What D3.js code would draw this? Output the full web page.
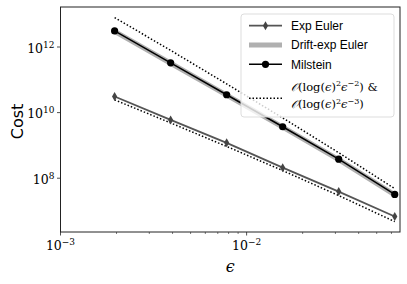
<!DOCTYPE html>
<html>
<head>
<meta charset="utf-8">
<script src="https://cdn.jsdelivr.net/npm/d3@7"></script>
<style>
  body { margin: 0; background: #fff; }
  text { fill: #000; }
</style>
</head>
<body>
<div class="chart"></div>
<script>
// epsilon values 2^-9 .. 2^-4
var eps = [1/512, 1/256, 1/128, 1/64, 1/32, 1/16];
var expEuler = [3.1e10, 6.0e9, 1.2e9, 2.1e8, 3.9e7, 6.8e6];
var driftExpEuler = [3.0e12, 3.2e11, 3.4e10, 3.6e9, 3.7e8, 3.1e7];
var milstein = [3.1e12, 3.3e11, 3.5e10, 3.7e9, 3.8e8, 3.2e7];
var refUpper = [7.9e12, 7.9e11, 7.5e10, 6.9e9, 6.0e8, 4.8e7];
var refLower = [2.45e10, 4.85e9, 9.3e8, 1.71e8, 2.96e7, 4.74e6];
var xTicks = [1e-3, 1e-2];
var xTickExp = ["\u22123", "\u22122"];
var yTicks = [1e8, 1e10, 1e12];
var yTickExp = ["8", "10", "12"];

var margin = ({top: 7, right: 7, bottom: 52, left: 60.5});
var W = 407, H = 284;
var width = W - margin.left - margin.right,
    height = H - margin.top - margin.bottom;

var svg = d3.select(".chart").append("svg")
    .attr("width", W)
    .attr("height", H);
var g = svg.append("g")
    .attr("transform", "translate(" + margin.left + "," + margin.top + ")");

var x = d3.scaleLog().domain([1e-3, 0.0667]).range([0, width]);
var y = d3.scaleLog().domain([Math.pow(10, 6.36), Math.pow(10, 13.22)]).range([height, 0]);

// minor x ticks
var minorX = [];
[1e-3, 1e-2].forEach(b => { for (var i = 2; i <= 9; i++) if (b * i < 0.0667) minorX.push(b * i); });
g.selectAll(".minor").data(minorX).join("line")
    .attr("x1", d => x(d)).attr("x2", d => x(d))
    .attr("y1", height).attr("y2", height + 2)
    .attr("stroke", "#222").attr("stroke-width", 0.6);

g.selectAll(".xmaj").data(xTicks).join("line")
    .attr("x1", d => x(d)).attr("x2", d => x(d))
    .attr("y1", height).attr("y2", height + 3.5)
    .attr("stroke", "#222").attr("stroke-width", 0.8);

g.selectAll(".ymaj").data(yTicks).join("line")
    .attr("x1", -3.5).attr("x2", 0)
    .attr("y1", d => y(d)).attr("y2", d => y(d))
    .attr("stroke", "#222").attr("stroke-width", 0.8);

var tickFont = "'DejaVu Serif', serif";
xTicks.forEach((t, i) => {
    var tx = g.append("text")
        .attr("x", x(t)).attr("y", height + 18)
        .attr("text-anchor", "middle")
        .style("font-family", tickFont).style("font-size", "12.5px");
    tx.append("tspan").text("10");
    tx.append("tspan").attr("dy", -5).style("font-size", "9px").text(xTickExp[i]);
});
yTicks.forEach((t, i) => {
    var ty = g.append("text")
        .attr("x", -6).attr("y", y(t) + 5.5)
        .attr("text-anchor", "end")
        .style("font-family", tickFont).style("font-size", "12.5px");
    ty.append("tspan").text("10");
    ty.append("tspan").attr("dy", -5).style("font-size", "9px").text(yTickExp[i]);
});

// axis labels
svg.append("text")
    .attr("transform", "translate(23," + (margin.top + height / 2 + 2) + ") rotate(-90)")
    .attr("text-anchor", "middle")
    .style("font-family", "'DejaVu Sans', sans-serif").style("font-size", "16px")
    .text("Cost");
svg.append("text")
    .attr("x", margin.left + width / 2).attr("y", 272)
    .attr("text-anchor", "middle")
    .style("font-family", tickFont).style("font-size", "16px").style("font-style", "italic")
    .text("\u03f5");

var line = d3.line().x((d, i) => x(eps[i])).y(d => y(d));

// reference slopes
[refUpper, refLower].forEach(s => {
    g.append("path").datum(s).attr("d", line)
        .attr("fill", "none").attr("stroke", "#000")
        .attr("stroke-width", 1.5).attr("stroke-dasharray", "1.5,2");
});

g.append("path").datum(driftExpEuler).attr("d", line)
    .attr("fill", "none").attr("stroke", "#b0b0b0").attr("stroke-width", 5);

g.append("path").datum(milstein).attr("d", line)
    .attr("fill", "none").attr("stroke", "#000").attr("stroke-width", 1.5);
g.selectAll(".mil").data(milstein).join("circle")
    .attr("cx", (d, i) => x(eps[i])).attr("cy", d => y(d)).attr("r", 3.6)
    .attr("fill", "#000");

var diamond = "M0,-4.5L2.6,0L0,4.5L-2.6,0Z";
g.append("path").datum(expEuler).attr("d", line)
    .attr("fill", "none").attr("stroke", "#555").attr("stroke-width", 1.8);
g.selectAll(".exp").data(expEuler).join("path")
    .attr("transform", (d, i) => "translate(" + x(eps[i]) + "," + y(d) + ")")
    .attr("d", diamond).attr("fill", "#444");

// frame
g.append("rect").attr("width", width).attr("height", height)
    .attr("fill", "none").attr("stroke", "#222").attr("stroke-width", 1);

// legend
var lg = svg.append("g").attr("transform", "translate(241,14)");
lg.append("rect").attr("width", 153).attr("height", 103).attr("rx", 3)
    .attr("fill", "#fff").attr("fill-opacity", 0.8)
    .attr("stroke", "#ddd").attr("stroke-width", 1);
var lf = "'Liberation Sans', Arial, sans-serif";
var rows = [
    {name: "Exp Euler", y: 11.7},
    {name: "Drift-exp Euler", y: 31},
    {name: "Milstein", y: 50.3},
    {name: "", y: 84.3}
];
var hx1 = 8, hx2 = 41, hm = 24.5, tx0 = 50;
lg.append("line").attr("x1", hx1).attr("x2", hx2).attr("y1", rows[0].y).attr("y2", rows[0].y)
    .attr("stroke", "#555").attr("stroke-width", 1.8);
lg.append("path").attr("transform", "translate(" + hm + "," + rows[0].y + ")").attr("d", diamond).attr("fill", "#444");
lg.append("line").attr("x1", hx1).attr("x2", hx2).attr("y1", rows[1].y).attr("y2", rows[1].y)
    .attr("stroke", "#b0b0b0").attr("stroke-width", 5);
lg.append("line").attr("x1", hx1).attr("x2", hx2).attr("y1", rows[2].y).attr("y2", rows[2].y)
    .attr("stroke", "#000").attr("stroke-width", 1.5);
lg.append("circle").attr("cx", hm).attr("cy", rows[2].y).attr("r", 3.6).attr("fill", "#000");
lg.append("line").attr("x1", hx1).attr("x2", hx2).attr("y1", rows[3].y).attr("y2", rows[3].y)
    .attr("stroke", "#000").attr("stroke-width", 1.5).attr("stroke-dasharray", "1.5,2");

rows.slice(0, 3).forEach(r => {
    lg.append("text").attr("x", tx0).attr("y", r.y + 4.3)
        .style("font-family", lf).style("font-size", "12px").text(r.name);
});

function bigO(yy, p, tail) {
    var t = lg.append("text").attr("x", tx0).attr("y", yy)
        .style("font-family", tickFont).style("font-size", "11.5px");
    t.append("tspan").style("font-style", "italic").text("\ud835\udcaa");
    t.append("tspan").text("(log(");
    t.append("tspan").style("font-style", "italic").text("\u03f5");
    t.append("tspan").text(")");
    t.append("tspan").attr("dy", -4.5).style("font-size", "8px").text("2");
    t.append("tspan").attr("dy", 4.5).style("font-style", "italic").text("\u03f5");
    t.append("tspan").attr("dy", -4.5).style("font-size", "8px").text("\u2212" + p);
    t.append("tspan").attr("dy", 4.5).text(")" + tail);
}
bigO(76.5, "2", " &");
bigO(94, "3", "");
</script>
</body>
</html>
